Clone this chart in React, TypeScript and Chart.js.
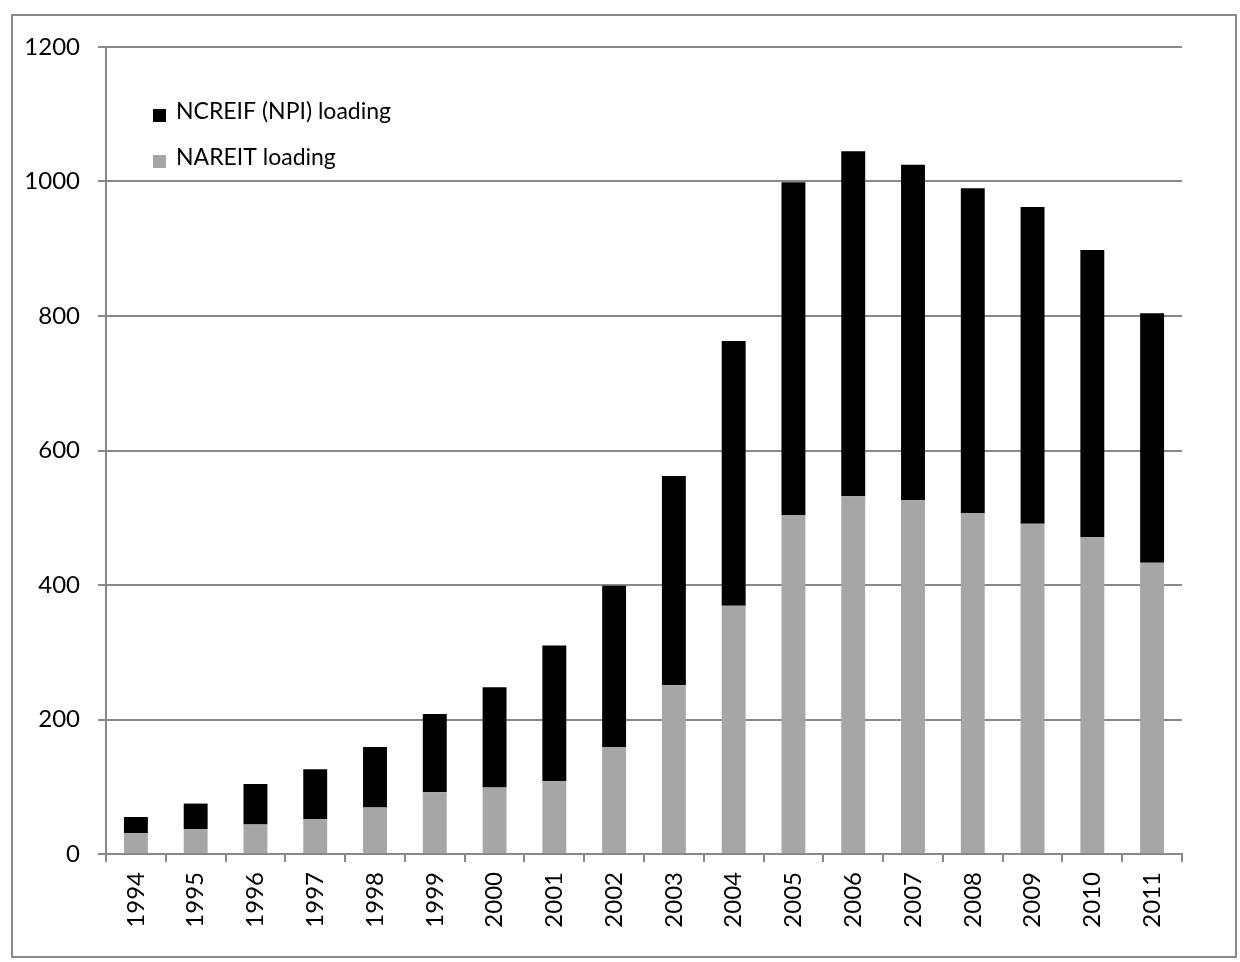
import React, { useEffect, useRef } from "react";
import { Chart, registerables } from "chart.js";

Chart.register(...registerables);

const years = ["1994","1995","1996","1997","1998","1999","2000","2001","2002","2003","2004","2005","2006","2007","2008","2009","2010","2011"];
const nareitLoading = [31, 37, 44, 52, 69, 92, 99, 108, 159, 251, 369, 504, 532, 526, 507, 491, 471, 433];
const ncreifLoading = [24, 38, 60, 74, 90, 116, 149, 202, 240, 311, 394, 495, 513, 499, 483, 471, 427, 371];
const yTicks = [0, 200, 400, 600, 800, 1000, 1200];

const FONT = "Lato, 'Open Sans', sans-serif";
const GRID = "#888888";

const legendPlugin = {
  id: "insideLegend",
  afterDraw(chart: any) {
    const ctx = chart.ctx;
    const order = [1, 0];
    ctx.save();
    ctx.font = `23px ${FONT}`;
    ctx.textBaseline = "alphabetic";
    ctx.textAlign = "left";
    order.forEach((di, i) => {
      const ds = chart.data.datasets[di];
      const top = 109 + i * 46;
      ctx.fillStyle = ds.backgroundColor;
      ctx.fillRect(153, top, 13, 13);
      ctx.fillStyle = "#000000";
      ctx.fillText(ds.label, 176, top + 10);
    });
    ctx.restore();
  },
};

export default function App() {
  const ref = useRef<HTMLCanvasElement>(null);
  useEffect(() => {
    if (!ref.current) return;
    const chart = new Chart(ref.current, {
      type: "bar",
      data: {
        labels: years,
        datasets: [
          { label: "NAREIT loading", data: nareitLoading, backgroundColor: "#A6A6A6", barPercentage: 0.4, categoryPercentage: 1.0 },
          { label: "NCREIF (NPI) loading", data: ncreifLoading, backgroundColor: "#000000", barPercentage: 0.4, categoryPercentage: 1.0 },
        ],
      },
      options: {
        animation: false,
        responsive: false,
        maintainAspectRatio: false,
        layout: { padding: { top: 47, left: 0, right: 58, bottom: 0 } },
        plugins: { legend: { display: false }, tooltip: { enabled: false } },
        scales: {
          x: {
            stacked: true,
            grid: { display: true, drawOnChartArea: false, drawTicks: true, tickLength: 8, color: GRID, lineWidth: 2, offset: true },
            border: { display: true, color: GRID, width: 2 },
            ticks: { color: "#000", font: { family: FONT, size: 24 }, minRotation: 90, maxRotation: 90, padding: 10, autoSkip: false },
            afterFit: (s: any) => { s.height = 962 - 854; },
          },
          y: {
            stacked: true,
            min: 0,
            max: 1200,
            afterBuildTicks: (s: any) => { s.ticks = yTicks.map((v) => ({ value: v })); },
            grid: { color: GRID, lineWidth: 2, tickLength: 8, drawTicks: true },
            border: { display: true, color: GRID, width: 2 },
            ticks: { color: "#000", font: { family: FONT, size: 24 }, padding: 18, callback: (v: any) => String(v) },
            afterFit: (s: any) => { s.width = 106; },
          },
        },
      },
      plugins: [legendPlugin],
    });
    return () => chart.destroy();
  }, []);
  return (
    <div style={{ position: "absolute", left: 0, top: 0, width: 1240, height: 962, background: "#fff" }}>
      <div style={{ position: "absolute", left: 11, top: 14, width: 1226, height: 944, border: "2px solid #888", boxSizing: "border-box" }} />
      <canvas ref={ref} width={1240} height={962} style={{ position: "absolute", left: 0, top: 0, width: 1240, height: 962 }} />
    </div>
  );
}
